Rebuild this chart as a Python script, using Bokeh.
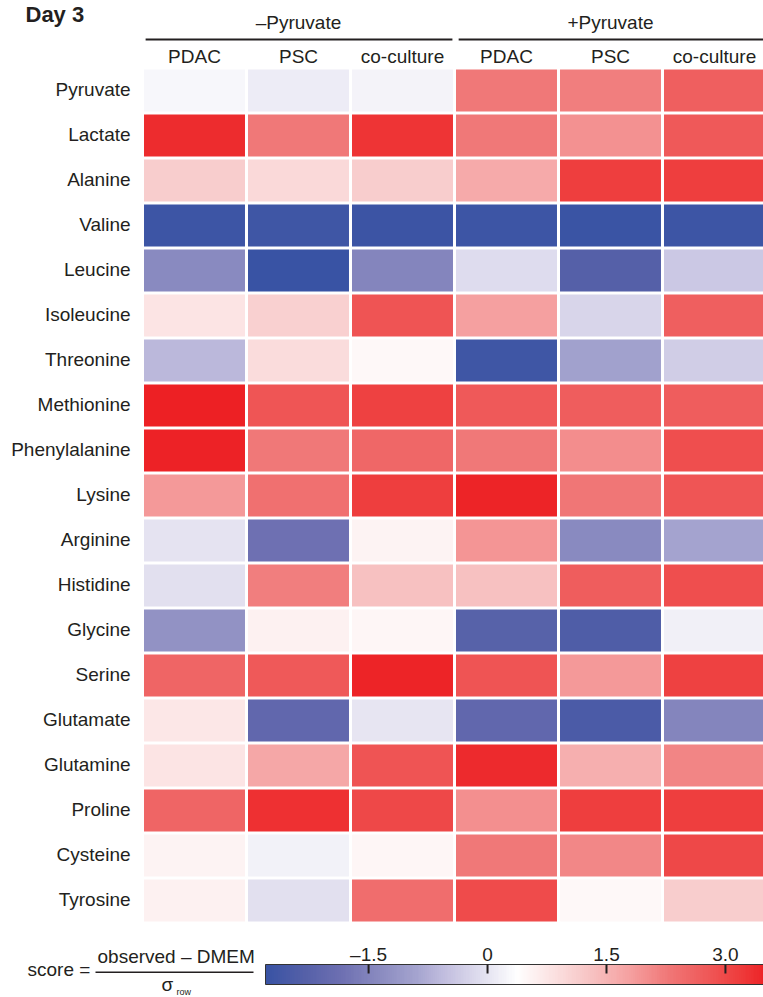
import numpy as np
from bokeh.plotting import figure
from bokeh.models import ColumnDataSource, LinearColorMapper, Range1d
from bokeh.layouts import column, row
from bokeh.transform import transform
from bokeh.core.properties import value
from bokeh.embed import file_html
from bokeh.resources import INLINE

# ---------------- data ----------------
metabolites = ["Pyruvate", "Lactate", "Alanine", "Valine", "Leucine", "Isoleucine",
               "Threonine", "Methionine", "Phenylalanine", "Lysine", "Arginine",
               "Histidine", "Glycine", "Serine", "Glutamate", "Glutamine", "Proline",
               "Cysteine", "Tyrosine"]
conditions = ["PDAC", "PSC", "co-culture", "PDAC", "PSC", "co-culture"]
groups = ["\u2013Pyruvate", "+Pyruvate"]

minus_pdac = [0.27, 3.38, 1.16, -2.72, -1.37, 0.78, -0.64, 3.54, 3.51, 1.86, -0.01, -0.07,
              -1.22, 2.56, 0.72, 0.78, 2.56, 0.56, 0.59]
minus_psc = [0.12, 2.27, 0.94, -2.68, -2.80, 1.10, 0.91, 2.81, 2.27, 2.40, -1.85, 2.18,
             0.59, 2.75, -2.10, 1.70, 3.32, 0.18, -0.07]
minus_co = [0.21, 3.29, 1.16, -2.75, -1.47, 2.84, 0.47, 3.10, 2.53, 3.16, 0.56, 1.32,
            0.50, 3.48, 0.02, 2.84, 3.00, 0.50, 2.43]
plus_pdac = [2.27, 2.27, 1.64, -2.72, -0.11, 1.80, -2.70, 2.75, 2.27, 3.48, 1.92, 1.32,
             -2.26, 2.84, -2.10, 3.41, 1.99, 2.27, 2.97]
plus_psc = [2.18, 1.96, 3.16, -2.76, -2.32, -0.20, -0.96, 2.68, 2.02, 2.30, -1.37, 2.68,
            -2.42, 1.86, -2.48, 1.57, 3.16, 2.08, 0.47]
plus_co = [2.65, 2.75, 3.16, -2.71, -0.42, 2.65, -0.33, 2.68, 2.91, 2.81, -0.90, 2.91,
           0.15, 3.10, -1.47, 2.11, 3.16, 3.00, 1.16]

score_min, score_max = -2.8, 3.54
cb_ticks = [-1.5, 0.0, 1.5, 3.0]
cb_tick_labels = ["\u20131.5", "0", "1.5", "3.0"]

columns_data = [minus_pdac, minus_psc, minus_co, plus_pdac, plus_psc, plus_co]

# ---------------- palette (styling) ----------------
anchors = [(0.0, "#3953a4"), (0.075, "#5560a8"), (0.15, "#6e70b2"), (0.225, "#8a8bc0"),
           (0.3, "#a5a4cf"), (0.35, "#c0bcde"), (0.425, "#dfddee"), (0.5, "#ffffff"),
           (0.575, "#fbe0e0"), (0.625, "#f8cccc"), (0.725, "#f5a0a0"), (0.8, "#f07878"),
           (0.875, "#ef5a5a"), (0.95, "#ee3a3a"), (1.0, "#ed2024")]
pos = np.array([a[0] for a in anchors])
rgb = np.array([[int(c[i:i + 2], 16) for i in (1, 3, 5)] for _, c in anchors], dtype=float)
tt = np.linspace(0, 1, 256)
palette = []
for t in tt:
    r, g, b = (np.interp(t, pos, rgb[:, k]) for k in range(3))
    palette.append("#%02x%02x%02x" % (int(round(r)), int(round(g)), int(round(b))))

mapper = LinearColorMapper(palette=palette, low=score_min, high=score_max)

TXT = "#231f20"
FONT = value("Liberation Sans")


def bare(p):
    p.grid.visible = False
    p.outline_line_color = None
    return p


# ---------------- main heatmap ----------------
xs, ys, vs = [], [], []
for ci, col in enumerate(columns_data):
    for ri, v in enumerate(col):
        xs.append(ci + 0.5)
        ys.append(ri + 0.5)
        vs.append(v)
src = ColumnDataSource(dict(x=xs, y=ys, v=vs))

main = bare(figure(width=763, height=930, x_range=Range1d(-1.3654, 5.9712),
                   y_range=Range1d(19.1667, -1.5), output_backend="svg",
                   toolbar_location=None, min_border=0, x_axis_location=None,
                   y_axis_location=None))

main.rect(x="x", y="y", width=0.971, height=0.933, source=src,
          fill_color=transform("v", mapper), line_color=None)

main.text(x=[-0.115] * len(metabolites), y=[i + 0.477 for i in range(len(metabolites))],
          text=metabolites, text_font=FONT, text_font_size="19px", text_align="right",
          text_baseline="alphabetic", text_color=TXT)
main.text(x=[i + 0.5 for i in range(len(conditions))], y=[-0.249] * len(conditions),
          text=conditions, text_font=FONT, text_font_size="19px", text_align="center",
          text_baseline="alphabetic", text_color=TXT)
main.text(x=[1.5, 4.5], y=[-1.012, -1.012], text=groups, text_font=FONT,
          text_font_size="19px", text_align="center", text_baseline="alphabetic",
          text_color=TXT)
main.segment(x0=[0.03, 3.04], y0=[-0.633, -0.633], x1=[2.98, 6.1], y1=[-0.633, -0.633],
             line_color=TXT, line_width=2)
main.text(x=[-1.125], y=[-1.183], text=["Day 3"], text_font=FONT, text_font_size="22px",
          text_font_style="bold", text_align="left", text_baseline="alphabetic",
          text_color=TXT)

# ---------------- formula ----------------
form = bare(figure(width=264, height=67, x_range=Range1d(0, 264), y_range=Range1d(67, 0),
                   output_backend="svg", toolbar_location=None, min_border=0,
                   x_axis_location=None, y_axis_location=None))
form.text(x=[27], y=[39], text=["score ="], text_font=FONT, text_font_size="19px",
          text_align="left", text_baseline="alphabetic", text_color=TXT)
form.text(x=[97], y=[26], text=["observed \u2013 DMEM"], text_font=FONT,
          text_font_size="19px", text_align="left", text_baseline="alphabetic",
          text_color=TXT)
form.segment(x0=[95], y0=[41.7], x1=[253], y1=[41.7], line_color=TXT, line_width=1.5)
form.text(x=[161], y=[54], text=["\u03c3"], text_font=FONT, text_font_size="19px",
          text_align="left", text_baseline="alphabetic", text_color=TXT)
form.text(x=[176], y=[61.5], text=["row"], text_font=FONT, text_font_size="9px",
          text_align="left", text_baseline="alphabetic", text_color=TXT)

# ---------------- colorbar ----------------
px_per_unit = 79.3
cb = bare(figure(width=499, height=67,
                 x_range=Range1d(score_min - 1 / px_per_unit, score_min + 498 / px_per_unit),
                 y_range=Range1d(67, 0), output_backend="svg", toolbar_location=None,
                 min_border=0, x_axis_location=None, y_axis_location=None))
grad = np.linspace(score_min, score_max, 700).reshape(1, -1)
cb.image(image=[grad], x=score_min, y=34, dw=score_max - score_min, dh=20,
         color_mapper=mapper)
cb.quad(left=[score_min], right=[score_max + 0.2], top=[34], bottom=[54],
        fill_color=None, line_color="#333333", line_width=1)
cb.segment(x0=cb_ticks, y0=[34] * len(cb_ticks), x1=cb_ticks, y1=[43] * len(cb_ticks),
           line_color=TXT, line_width=2)
cb.text(x=cb_ticks, y=[24] * len(cb_ticks), text=cb_tick_labels, text_font=FONT,
        text_font_size="19px", text_align="center", text_baseline="alphabetic",
        text_color=TXT)

layout = column(main, row(form, cb))

open("out.html", "w").write(file_html(layout, INLINE))
